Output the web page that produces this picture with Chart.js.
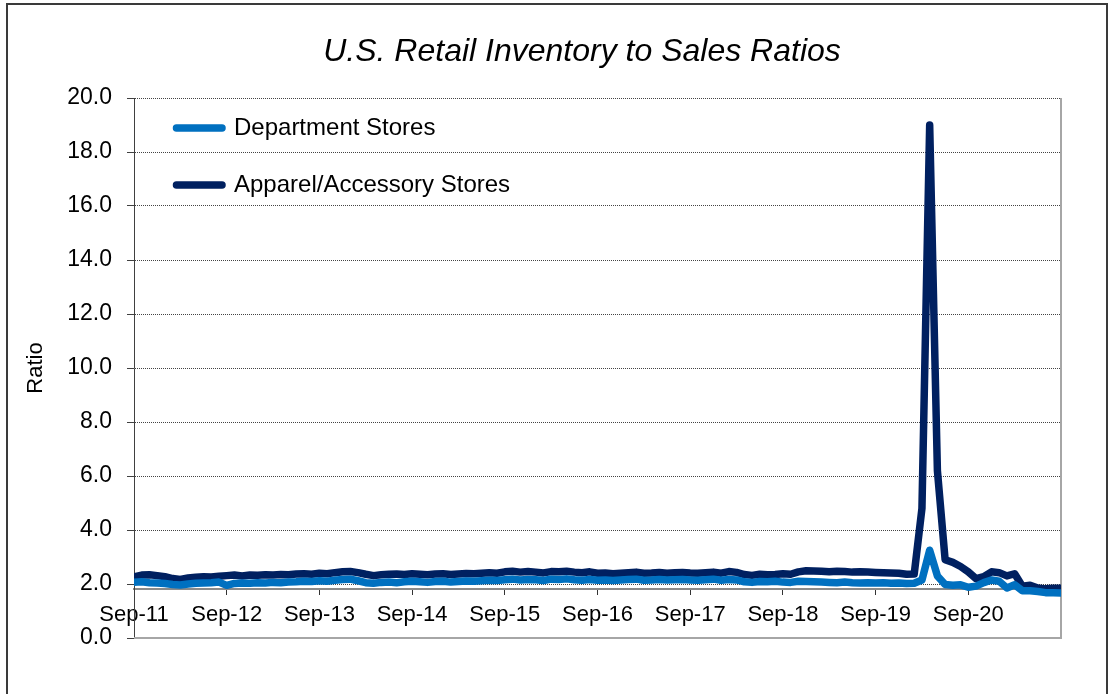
<!DOCTYPE html>
<html><head><meta charset="utf-8">
<script src="https://cdn.jsdelivr.net/npm/chart.js@4.4.1/dist/chart.umd.min.js"></script>
<style>
html,body{margin:0;padding:0;background:#fff;overflow:hidden;}
#wrap{position:relative;width:1110px;height:694px;}
#frame{position:absolute;left:6px;top:3px;width:1098px;height:760px;border:2px solid #3a3a3a;border-bottom:none;}
canvas{position:absolute;left:0;top:0;}
</style></head><body>
<div id="wrap"><div id="frame"></div><canvas id="c" width="1110" height="694"></canvas></div>
<script>
// Monthly observations, Sep-11 .. Sep-21 (121 months)
const departmentStores = [
  2.06, 2.08, 2.05, 2.04, 2.02, 1.98, 1.96, 2.00, 2.03, 2.04, 2.05, 2.07,
  1.95, 2.02, 2.04, 2.03, 2.05, 2.04, 2.06, 2.05, 2.07, 2.08, 2.10, 2.09,
  2.12, 2.10, 2.14, 2.17, 2.18, 2.12, 2.05, 2.03, 2.06, 2.07, 2.05, 2.08,
  2.10, 2.08, 2.06, 2.09, 2.10, 2.07, 2.09, 2.11, 2.10, 2.12, 2.14, 2.13,
  2.16, 2.18, 2.15, 2.17, 2.16, 2.13, 2.18, 2.17, 2.19, 2.16, 2.14, 2.17,
  2.14, 2.15, 2.13, 2.15, 2.17, 2.18, 2.14, 2.15, 2.17, 2.15, 2.16, 2.17,
  2.15, 2.14, 2.16, 2.18, 2.14, 2.17, 2.15, 2.08, 2.06, 2.09, 2.08, 2.10,
  2.07, 2.06, 2.10, 2.09, 2.08, 2.07, 2.06, 2.05, 2.07, 2.05, 2.04, 2.05,
  2.04, 2.05, 2.03, 2.04, 2.02, 2.03, 2.15, 3.25, 2.30, 1.98, 1.95, 1.97,
  1.88, 1.92, 2.05, 2.15, 2.10, 1.85, 1.97, 1.75, 1.75, 1.72, 1.68, 1.68, 1.67
];
const apparelStores = [
  2.27, 2.33, 2.34, 2.31, 2.27, 2.20, 2.17, 2.22, 2.25, 2.27, 2.26, 2.29,
  2.31, 2.33, 2.30, 2.33, 2.32, 2.34, 2.33, 2.35, 2.34, 2.37, 2.38, 2.36,
  2.40, 2.38, 2.42, 2.45, 2.46, 2.42, 2.36, 2.31, 2.34, 2.36, 2.37, 2.35,
  2.38, 2.36, 2.34, 2.37, 2.38, 2.35, 2.37, 2.39, 2.38, 2.40, 2.42, 2.40,
  2.45, 2.47, 2.44, 2.46, 2.44, 2.41, 2.46, 2.45, 2.47, 2.44, 2.42, 2.45,
  2.40, 2.41, 2.38, 2.40, 2.42, 2.44, 2.40, 2.41, 2.43, 2.40, 2.42, 2.43,
  2.41, 2.40, 2.42, 2.44, 2.40, 2.46, 2.43, 2.35, 2.32, 2.36, 2.34, 2.35,
  2.38, 2.36, 2.45, 2.49, 2.48, 2.47, 2.45, 2.47, 2.46, 2.44, 2.45, 2.44,
  2.43, 2.42, 2.41, 2.40, 2.36, 2.37, 4.80, 19.00, 6.20, 2.90, 2.80, 2.65,
  2.45, 2.20, 2.27, 2.45, 2.42, 2.30, 2.38, 1.92, 1.95, 1.85, 1.82, 1.84, 1.84
];
const xTickLabels = ['Sep-11','Sep-12','Sep-13','Sep-14','Sep-15','Sep-16','Sep-17','Sep-18','Sep-19','Sep-20'];
const seriesNames = ['Department Stores', 'Apparel/Accessory Stores'];
const seriesColors = ['#0070C0', '#002060'];
const chartTitle = 'U.S. Retail Inventory to Sales Ratios';
const yAxisTitle = 'Ratio';

const FONT = '"Liberation Sans", Arial, Helvetica, sans-serif';
const LINE_W = 7.5;
const toPoints = arr => arr.map((v, i) => ({x: i, y: v}));

const layoutTweaks = {
  id: 'layoutTweaks',
  afterLayout(chart, args, o) {
    const t = chart.titleBlock;
    if (t) { const dx = o.titleCenterX - (t.left + t.right) / 2; t.left += dx; t.right += dx; }
    const l = chart.legend;
    if (l) {
      const w = l.right - l.left, h = l.bottom - l.top;
      l.left = o.legendLeft; l.right = o.legendLeft + w;
      l.top = o.legendTop; l.bottom = o.legendTop + h;
    }
  },
  beforeDatasetsDraw(chart, args, o) {
    const {ctx, chartArea: a} = chart;
    ctx.save();
    ctx.strokeStyle = o.frameColor; ctx.lineWidth = o.frameWidth;
    ctx.beginPath();
    ctx.moveTo(a.left, a.bottom); ctx.lineTo(a.right, a.bottom); ctx.lineTo(a.right, a.top);
    ctx.stroke();
    ctx.restore();
  }
};

new Chart(document.getElementById('c'), {
  type: 'line',
  data: {
    datasets: [
      {label: seriesNames[0], data: toPoints(departmentStores), borderColor: seriesColors[0], backgroundColor: seriesColors[0]},
      {label: seriesNames[1], data: toPoints(apparelStores), borderColor: seriesColors[1], backgroundColor: seriesColors[1]}
    ]
  },
  options: {
    responsive: false,
    animation: false,
    events: [],
    layout: {padding: {left: 0, right: 49, top: 0, bottom: 56}},
    elements: {
      line: {borderWidth: LINE_W, tension: 0, borderJoinStyle: 'round', borderCapStyle: 'round', fill: false},
      point: {radius: 0}
    },
    scales: {
      x: {
        type: 'linear', axis: 'x', min: 0, max: 120,
        position: {y: 1.8},
        ticks: {
          stepSize: 12, autoSkip: false, maxRotation: 0, padding: 7,
          color: '#000', font: {family: FONT, size: 22},
          callback: v => xTickLabels[v / 12]
        },
        grid: {display: true, drawOnChartArea: false, drawTicks: true, tickLength: 5,
               tickColor: c => (c.tick && c.tick.value >= 120) ? 'rgba(0,0,0,0)' : '#333'},
        border: {display: true, color: '#8a8a8a', width: 2}
      },
      y: {
        min: 0, max: 20,
        afterFit: s => { s.width = 134; },
        ticks: {stepSize: 2, padding: 15, color: '#000', font: {family: FONT, size: 23},
                callback: v => v.toFixed(1)},
        grid: {color: '#444', lineWidth: 1, tickLength: 7, tickColor: '#404040', tickWidth: 1},
        border: {display: true, color: '#404040', width: 1, dash: c => (c.tick && c.tick.value === 0) ? [] : [1, 1]},
        title: {display: true, text: yAxisTitle, color: '#000', font: {family: FONT, size: 22}, padding: {top: 23, bottom: 0}}
      }
    },
    plugins: {
      title: {display: true, text: chartTitle, color: '#000',
              font: {family: FONT, size: 32, style: 'italic', weight: 'normal'},
              padding: {top: 32.8, bottom: 26.8}},
      legend: {
        position: 'chartArea', align: 'start',
        labels: {
          usePointStyle: true, pointStyle: 'line', pointStyleWidth: 45.5,
          color: '#000', font: {family: FONT, size: 24}, padding: 33,
          generateLabels: chart => Chart.defaults.plugins.legend.labels.generateLabels(chart).map(it =>
            Object.assign(it, {lineWidth: LINE_W, lineCap: 'round', strokeStyle: seriesColors[it.datasetIndex]}))
        }
      },
      tooltip: {enabled: false},
      layoutTweaks: {titleCenterX: 582, legendLeft: 143.5, legendTop: 83, frameColor: '#a6a6a6', frameWidth: 2}
    }
  },
  plugins: [layoutTweaks]
});
</script>
</body></html>
